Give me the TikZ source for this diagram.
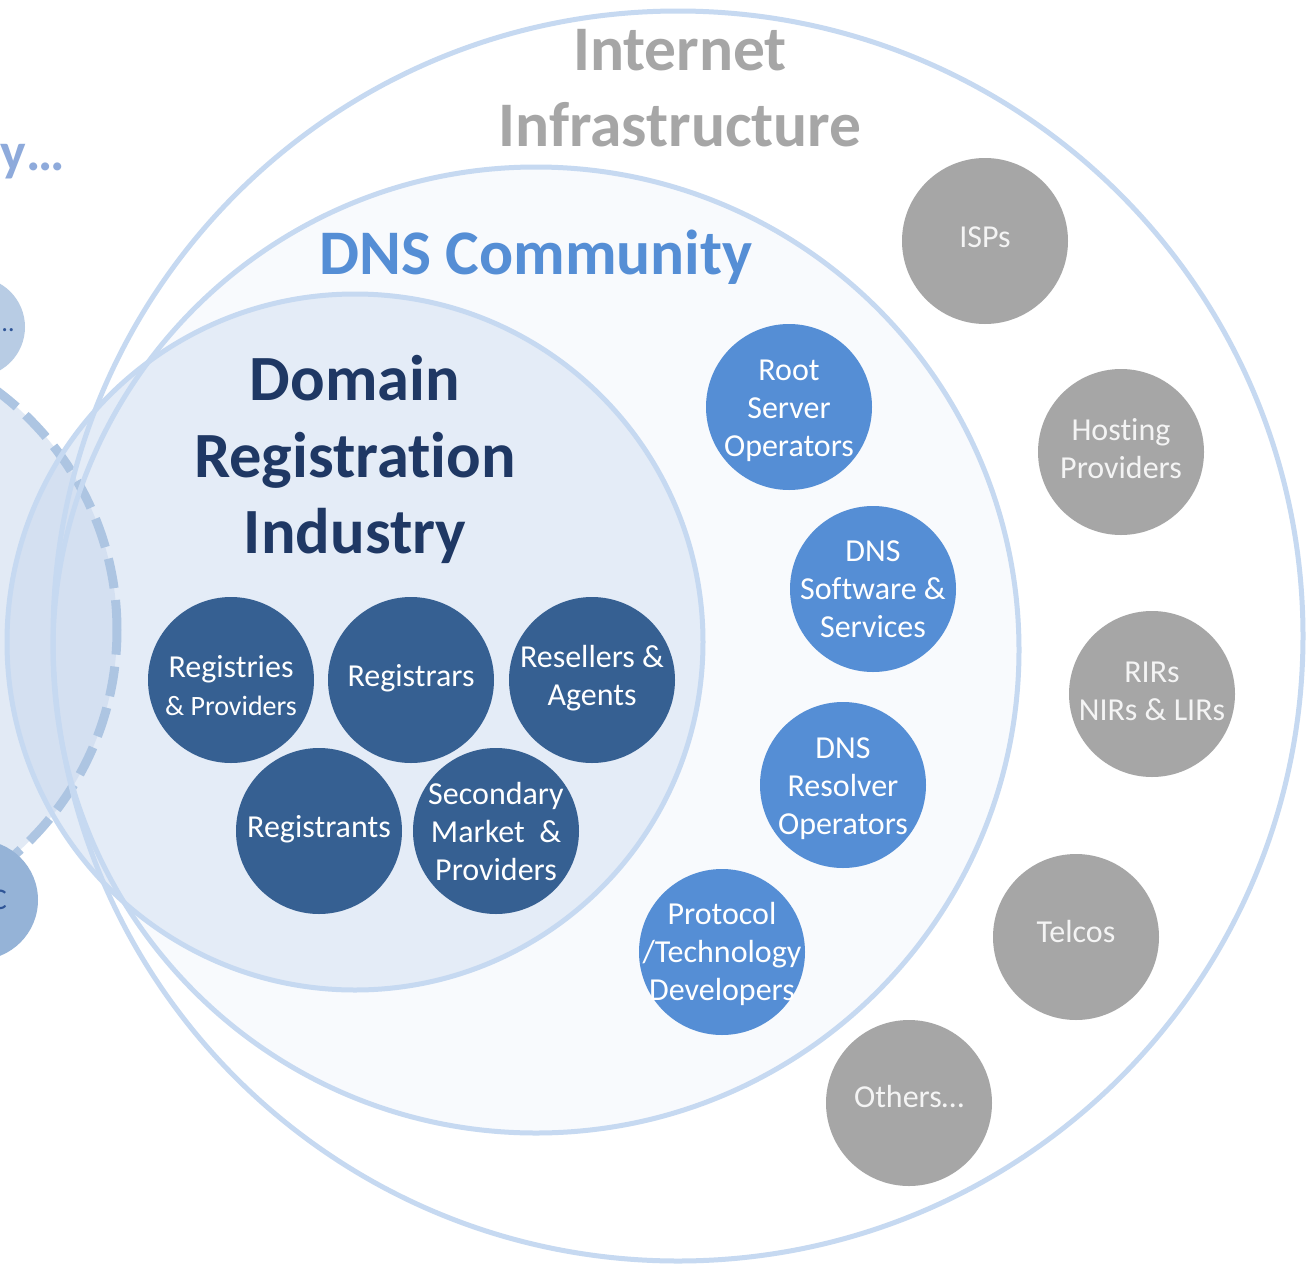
\documentclass[tikz,border=0pt]{standalone}
\usepackage{fontspec}
\setmainfont{Carlito}[Ligatures=NoCommon]
\definecolor{cgray}{HTML}{A6A6A6}
\definecolor{cgtext}{HTML}{F4F4F4}
\definecolor{cmid}{HTML}{558ED5}
\definecolor{cdark}{HTML}{366092}
\definecolor{cline}{HTML}{C6D9F1}
\definecolor{cdomain}{HTML}{E4ECF7}
\definecolor{cdns}{HTML}{F8FAFD}
\definecolor{cdash}{HTML}{ADC5E2}
\definecolor{cdashfill}{HTML}{C4D5EC}
\definecolor{cnavy}{HTML}{1F3864}
\definecolor{cfaint}{HTML}{8EAADB}
\definecolor{csmallA}{HTML}{B8CCE4}
\definecolor{csmallB}{HTML}{95B3D7}
\definecolor{csmalltext}{HTML}{2F5597}
\tikzset{
  ring/.style={draw=cline, line width=5pt},
  bub/.style={circle, minimum size=166pt, inner sep=0pt},
  gbub/.style={bub, fill=cgray},
  mbub/.style={bub, fill=cmid},
  dbub/.style={bub, fill=cdark},
  lbl/.style={font=\fontsize{32}{38}\selectfont, align=center, inner sep=0pt},
  glbl/.style={lbl, text=cgtext},
  wlbl/.style={lbl, text=white},
  titleg/.style={font=\bfseries\fontsize{63.5}{76}\selectfont, text=cgray, inner sep=0pt, anchor=base},
  titlen/.style={font=\bfseries\fontsize{64.5}{76}\selectfont, text=cnavy, inner sep=0pt, anchor=base},
}
\begin{document}
\begin{tikzpicture}[x=1pt,y=-1pt]
\useasboundingbox (0,0) rectangle (1307,1269);
\clip (0,0) rectangle (1307,1269);
\fill[white] (0,0) rectangle (1307,1269);
% fills
\fill[cdns] (536,650) circle[radius=483pt];
\fill[cdomain] (355,642) circle[radius=348pt];
\fill[cdashfill, fill opacity=0.48] (-181,630) circle[radius=298pt];
\draw[cdash, line width=9pt, dash pattern=on 30pt off 12pt] (-181,630) circle[radius=298pt];
% outlines
\draw[ring] (678,636) circle[radius=625pt];
\draw[ring] (536,650) circle[radius=483pt];
\draw[ring] (355,642) circle[radius=348pt];
% partial circles at left edge
\node[circle, minimum size=100pt, inner sep=0pt, fill=csmallA] (leftA) at (-25,327) {};
\node[anchor=east, inner sep=0pt, text=csmalltext, font=\fontsize{26}{30}\selectfont] (leftAt) at (14,330) {…};
\node[circle, minimum size=120pt, inner sep=0pt, fill=csmallB] (leftB) at (-22,900) {};
\node[anchor=east, inner sep=0pt, text=csmalltext, font=\fontsize{30}{36}\selectfont] (leftBt) at (7,900) {C};
\node[anchor=base east, inner sep=0pt, text=cfaint, font=\bfseries\fontsize{54}{60}\selectfont] (ytext) at (65,170) {y…};
% titles
\node[titleg] (t1) at (680,70) {Internet};
\node[titleg] (t2) at (680,146) {Infrastructure};
\node[anchor=base, inner sep=0pt, text=cmid, font=\bfseries\fontsize{63.5}{76}\selectfont] (t3) at (536,274) {DNS Community};
\node[titlen] (t4) at (355,400) {Domain};
\node[titlen] (t5) at (355,477) {Registration};
\node[titlen] (t6) at (355,553) {Industry};
% gray bubbles
\node[gbub, label={[glbl, yshift=4pt]center:ISPs}] (isps) at (985,241) {};
\node[gbub, label={[glbl, yshift=3pt]center:Hosting\\Providers}] (hosting) at (1121,452) {};
\node[gbub, label={[glbl, yshift=3pt]center:RIRs\\NIRs \& LIRs}] (rirs) at (1152,694) {};
\node[gbub, label={[glbl, yshift=6pt]center:Telcos}] (telcos) at (1076,937) {};
\node[gbub, label={[glbl, yshift=6pt]center:Others…}] (others) at (909,1103) {};
% mid blue bubbles
\node[mbub, label={[wlbl, yshift=-4pt]center:Root\\Server\\Operators}] (root) at (789,407) {};
\node[mbub, label={[wlbl]center:DNS\\Software \&\\Services}] (software) at (873,589) {};
\node[mbub, label={[wlbl, yshift=-4pt]center:DNS\\Resolver\\Operators}] (resolver) at (843,785) {};
\node[mbub, label={[wlbl, yshift=-2pt]center:Protocol\\/Technology\\Developers}] (protocol) at (722,952) {};
% dark blue bubbles
\node[dbub, label={[wlbl, yshift=-6pt]center:Registries\\{\fontsize{28}{36}\selectfont\& Providers}}] (registries) at (231,680) {};
\node[dbub, label={[wlbl, yshift=2pt]center:Registrars}] (registrars) at (411,680) {};
\node[dbub, label={[wlbl, yshift=2pt]center:Resellers \&\\Agents}] (resellers) at (592,680) {};
\node[dbub, label={[wlbl, yshift=2pt]center:Registrants}] (registrants) at (319,831) {};
\node[dbub, label={[wlbl]center:Secondary\\Market~~\&\\Providers}] (secondary) at (496,831) {};
\end{tikzpicture}
\end{document}
